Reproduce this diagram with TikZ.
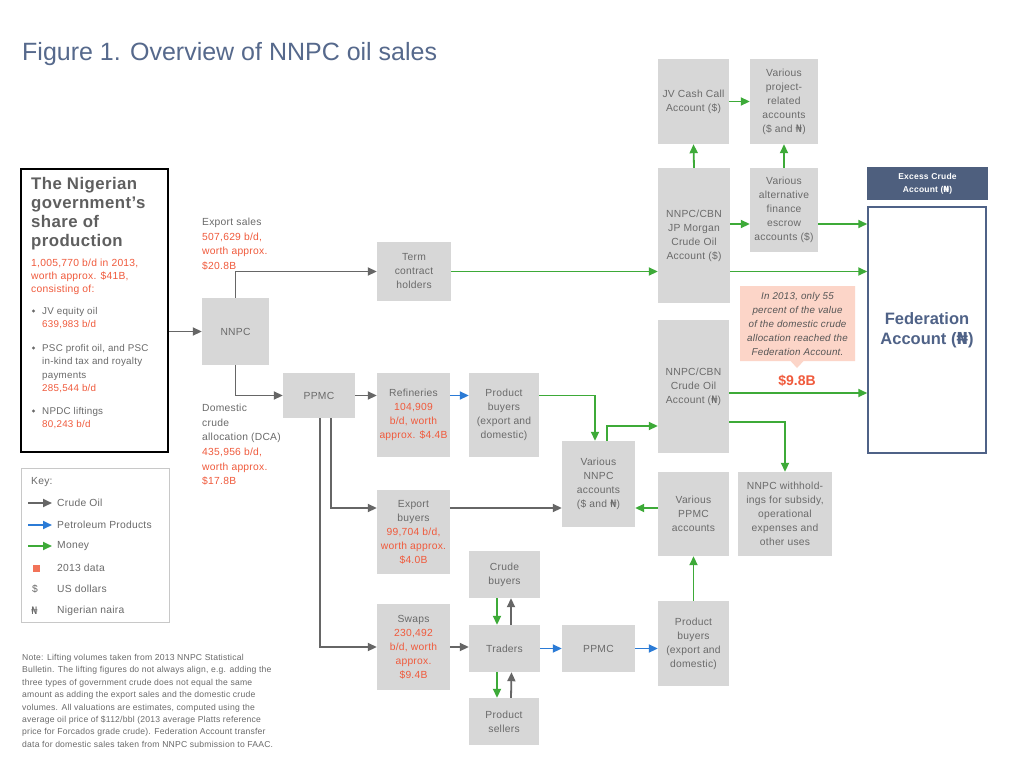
\documentclass[tikz,border=0pt]{standalone}
\usepackage{fontspec}
\setmainfont{Liberation Sans}[LetterSpace=2.5]
\newfontfamily\titlefont{Liberation Sans}
\newfontfamily\djv{DejaVu Sans}
\usetikzlibrary{arrows.meta,shapes.callouts}
\definecolor{boxgray}{HTML}{D7D7D7}
\definecolor{txtgray}{HTML}{6A6A6A}
\definecolor{redv}{HTML}{F05A3C}
\definecolor{moneyg}{HTML}{3DAA38}
\definecolor{prodb}{HTML}{2B7BD6}
\definecolor{crudeg}{HTML}{666666}
\definecolor{slate}{HTML}{4F6287}
\definecolor{titleblue}{HTML}{56698C}
\definecolor{callfill}{HTML}{FCD5C8}
\definecolor{keyborder}{HTML}{C8C8C8}
\definecolor{excessfill}{HTML}{4E5F7E}
\newcommand\naira{{\djv ₦}}
\newcommand\rv[1]{\textcolor{redv}{#1}}
\begin{document}
\begin{tikzpicture}[x=1pt,y=-1pt,
  box/.style={fill=boxgray, inner sep=0pt, align=center, text=txtgray,
    font=\fontsize{10.3}{14}\selectfont},
  arr/.style={line width=1.8pt, -{Triangle[length=9pt,width=8pt]}},
  crude/.style={arr, draw=crudeg},
  money/.style={arr, draw=moneyg},
  prod/.style={arr, draw=prodb},
  lbl/.style={anchor=north west, inner sep=0pt, align=left, text=txtgray,
    font=\fontsize{10.3}{14.5}\selectfont},
  keytxt/.style={anchor=west, inner sep=0pt, text=txtgray, font=\fontsize{10.3}{12}\selectfont},
  bul/.style={fill=txtgray}
]
\useasboundingbox (0,0) rectangle (1024,768);
\fill[white] (0,0) rectangle (1024,768);

% title
\node[anchor=west, inner sep=0pt, text=titleblue, font=\titlefont\fontsize{25}{28}\selectfont] (title) at (22,54) {Figure 1. Overview of NNPC oil sales};

% government share box
\node[draw=black, line width=1.8pt, minimum width=147pt, minimum height=283pt, inner sep=0pt] (gov) at (94.5,310.5) {};
\node[anchor=north west, inner sep=0pt, align=left, text=txtgray!90!black, font=\bfseries\fontsize{16.8}{19}\selectfont] (govt) at (31,177) {The Nigerian\\government’s\\share of\\production};
\node[anchor=north west, inner sep=0pt, align=left, text=redv, font=\fontsize{10.3}{13}\selectfont] (govr) at (31,259) {1,005,770 b/d in 2013,\\worth approx. \$41B,\\consisting of:};
\fill[bul] (33.5,311) circle (1.6);
\node[anchor=north west, inner sep=0pt, align=left, text=txtgray, font=\fontsize{9.8}{13.5}\selectfont] (b1t) at (42,307) {JV equity oil\\\rv{639,983 b/d}};
\fill[bul] (33.5,348) circle (1.6);
\node[anchor=north west, inner sep=0pt, align=left, text=txtgray, font=\fontsize{9.8}{13.5}\selectfont] (b2t) at (42,344) {PSC profit oil, and PSC\\in-kind tax and royalty\\payments\\\rv{285,544 b/d}};
\fill[bul] (33.5,411) circle (1.6);
\node[anchor=north west, inner sep=0pt, align=left, text=txtgray, font=\fontsize{9.8}{13.5}\selectfont] (b3t) at (42,407) {NPDC liftings\\\rv{80,243 b/d}};

% key
\node[draw=keyborder, line width=1pt, minimum width=148pt, minimum height=154pt, inner sep=0pt] (key) at (95,545) {};
\node[keytxt] (keyt) at (31,482) {Key:};
\coordinate (k1a) at (28,503); \coordinate (k1b) at (52,503);
\coordinate (k2a) at (28,525); \coordinate (k2b) at (52,525);
\coordinate (k3a) at (28,546); \coordinate (k3b) at (52,546);
\draw[crude] (k1a) -- (k1b);
\draw[prod] (k2a) -- (k2b);
\draw[money] (k3a) -- (k3b);
\node[keytxt] (kt1) at (57,503) {Crude Oil};
\node[keytxt] (kt2) at (57,525) {Petroleum Products};
\node[keytxt] (kt3) at (57,546) {Money};
\node[fill=redv!85!white, minimum size=7pt, inner sep=0pt] (ksq) at (36,568) {};
\node[keytxt] (kt4) at (57,568) {2013 data};
\node[keytxt] (kd) at (32,589) {\$};
\node[keytxt] (kt5) at (57,589) {US dollars};
\node[keytxt] (kn) at (31,611) {\naira};
\node[keytxt] (kt6) at (57,611) {Nigerian naira};

% note
\node[anchor=north west, inner sep=0pt, align=left, text=txtgray, font=\fontsize{8.6}{12.4}\selectfont] (note) at (22,654) {Note: Lifting volumes taken from 2013 NNPC Statistical\\Bulletin. The lifting figures do not always align, e.g. adding the\\three types of government crude does not equal the same\\amount as adding the export sales and the domestic crude\\volumes. All valuations are estimates, computed using the\\average oil price of \$112/bbl (2013 average Platts reference\\price for Forcados grade crude). Federation Account transfer\\data for domestic sales taken from NNPC submission to FAAC.};

% labels
\node[lbl] (explbl) at (202,218) {Export sales\\\rv{507,629 b/d,}\\\rv{worth approx.}\\\rv{\$20.8B}};
\node[lbl] (domlbl) at (202,404) {Domestic\\crude\\allocation (DCA)};
\node[lbl, text=redv] (domred) at (202,448) {435,956 b/d,\\worth approx.\\\$17.8B};

% boxes
\node[box, minimum width=67pt, minimum height=67pt] (nnpc) at (235.5,331.5) {NNPC};
\node[box, minimum width=74pt, minimum height=59pt] (term) at (414,271.5) {Term\\contract\\holders};
\node[box, minimum width=72pt, minimum height=45pt] (ppmc) at (319,395.5) {PPMC};
\node[box, minimum width=73pt, minimum height=84pt] (ref) at (413.5,415) {Refineries\\\rv{104,909}\\\rv{b/d, worth}\\\rv{approx. \$4.4B}};
\node[box, minimum width=70pt, minimum height=84pt] (pb1) at (504,415) {Product\\buyers\\(export and\\domestic)};
\node[box, minimum width=73pt, minimum height=86pt] (vnnpc) at (598.5,484) {Various\\NNPC\\accounts\\(\$ and \naira)};
\node[box, minimum width=73pt, minimum height=84pt] (exp) at (413.5,532) {Export\\buyers\\\rv{99,704 b/d,}\\\rv{worth approx.}\\\rv{\$4.0B}};
\node[box, minimum width=73pt, minimum height=86pt] (swaps) at (413.5,647) {Swaps\\\rv{230,492}\\\rv{b/d, worth}\\\rv{approx.}\\\rv{\$9.4B}};
\node[box, minimum width=71pt, minimum height=47pt] (cbuy) at (504.5,574.5) {Crude\\buyers};
\node[box, minimum width=71pt, minimum height=47pt] (traders) at (504.5,648.5) {Traders};
\node[box, minimum width=70pt, minimum height=47pt] (psell) at (504,721.5) {Product\\sellers};
\node[box, minimum width=73pt, minimum height=47pt] (ppmc2) at (598.5,648.5) {PPMC};
\node[box, minimum width=71pt, minimum height=85pt] (pb2) at (693.5,643.5) {Product\\buyers\\(export and\\domestic)};
\node[box, minimum width=71pt, minimum height=84pt] (vppmc) at (693.5,514) {Various\\PPMC\\accounts};
\node[box, minimum width=94pt, minimum height=84pt] (withh) at (785,514) {NNPC withhold-\\ings for subsidy,\\operational\\expenses and\\other uses};
\node[box, minimum width=71pt, minimum height=133pt] (cacct) at (693.5,386.5) {NNPC/CBN\\Crude Oil\\Account (\naira)};
\node[box, minimum width=72pt, minimum height=135pt] (jpm) at (694,235.5) {NNPC/CBN\\JP Morgan\\Crude Oil\\Account (\$)};
\node[box, minimum width=71pt, minimum height=85pt] (jv) at (693.5,101.5) {JV Cash Call\\Account (\$)};
\node[box, minimum width=68pt, minimum height=85pt] (proj) at (784,101.5) {Various\\project-\\related\\accounts\\(\$ and \naira)};
\node[box, minimum width=68pt, minimum height=84pt] (escrow) at (784,210) {Various\\alternative\\finance\\escrow\\accounts (\$)};
\node[fill=excessfill, minimum width=121pt, minimum height=33pt, inner sep=0pt, align=center, text=white, font=\bfseries\fontsize{8.5}{13}\selectfont] (excess) at (927.5,183.5) {Excess Crude\\Account (\naira)};
\node[draw=slate, line width=1.5pt, minimum width=118pt, minimum height=246pt, inner sep=0pt, align=center, text=slate, font=\titlefont\bfseries\fontsize{16.5}{20}\selectfont] (fed) at (927,330) {Federation\\Account (\naira)};

% callout
\node[rectangle callout, fill=callfill, minimum width=115pt, minimum height=75pt, inner sep=0pt,
  callout absolute pointer={(797,368)}, callout pointer width=13pt, align=center,
  text=txtgray!80!black, font=\itshape\fontsize{9.8}{14}\selectfont] (call) at (797.5,323.5)
  {In 2013, only 55\\percent of the value\\of the domestic crude\\allocation reached the\\Federation Account.};
\node[inner sep=0pt, text=redv, font=\titlefont\bfseries\fontsize{14}{16}\selectfont] (val) at (797,381) {\$9.8B};

% helper coordinates
\coordinate (y224) at (0,224);
\coordinate (y393) at (0,393);
\coordinate (y422) at (0,422);
\coordinate (y426) at (0,426);
\coordinate (y508) at (0,508);

% crude oil flows
\draw[crude] (gov.east |- nnpc.west) -- (nnpc.west);
\draw[crude] (nnpc.north) |- (term.west);
\draw[crude] (nnpc.south) |- (ppmc.west);
\draw[crude] (ppmc.east) -- (ppmc.east -| ref.west);
\draw[crude] ([xshift=12pt]ppmc.south) |- (exp.west |- y508);
\draw[crude] ([xshift=1pt]ppmc.south) |- (swaps.west);
\draw[crude] (exp.east |- y508) -- (vnnpc.west |- y508);
\draw[crude] (swaps.east) -- (swaps.east -| traders.west);
\draw[crude] ([xshift=6.5pt]traders.north) -- ([xshift=6.5pt]cbuy.south);
\draw[crude] ([xshift=7pt]psell.north) -- ([xshift=7pt]traders.south);

% product flows
\draw[prod] (ref.east |- ppmc.east) -- (pb1.west |- ppmc.east);
\draw[prod] (traders.east) -- (ppmc2.west);
\draw[prod] (ppmc2.east) -- (ppmc2.east -| pb2.west);

% money flows
\draw[money] (pb1.east |- ppmc.east) -| ([xshift=-3.5pt]vnnpc.north);
\draw[money] ([xshift=8.5pt]vnnpc.north) |- (cacct.west |- y426);
\draw[money] (vppmc.west |- y508) -- (vnnpc.east |- y508);
\draw[money] ([xshift=-7.5pt]cbuy.south) -- ([xshift=-7.5pt]traders.north);
\draw[money] ([xshift=-7.5pt]traders.south) -- ([xshift=-7pt]psell.north);
\draw[money] (pb2.north) -- (vppmc.south);
\draw[money] (term.east) -- (term.east -| jpm.west);
\draw[money] (jpm.east |- term.east) -- (fed.west |- term.east);
\draw[money] (jpm.north) -- (jv.south);
\draw[money] (jv.east) -- (proj.west);
\draw[money] (jpm.east |- y224) -- (escrow.west |- y224);
\draw[money] (escrow.east |- y224) -- (fed.west |- y224);
\draw[money] (escrow.north) -- (proj.south);
\draw[money] (cacct.east |- y393) -- (fed.west |- y393);
\draw[money] (cacct.east |- y422) -| (withh.north);
\end{tikzpicture}
\end{document}
